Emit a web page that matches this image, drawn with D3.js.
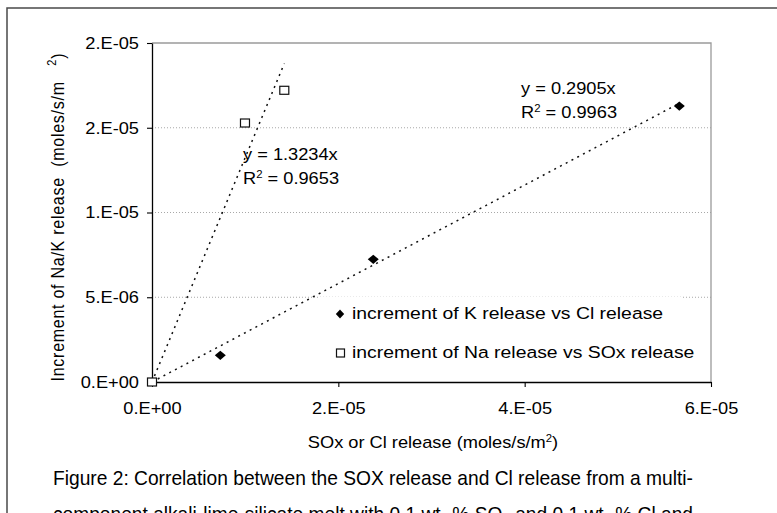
<!DOCTYPE html>
<html>
<head>
<meta charset="utf-8">
<script src="https://cdn.jsdelivr.net/npm/d3@7"></script>
<style>
  html, body { margin: 0; padding: 0; background: #fff; }
  svg { display: block; }
  text { font-family: "Liberation Sans", Arial, sans-serif; fill: #000; white-space: pre; }
</style>
</head>
<body>
<div id="chart"></div>
<script>
// K release vs Cl release (diamonds)
const kRelease = [7.33e-6, 2.375e-5, 5.66e-5];
const kIncrement = [1.575e-6, 7.24e-6, 1.628e-5];
// Na release vs SOx release (squares)
const soxRelease = [0, 9.98e-6, 1.42e-5];
const naIncrement = [0, 1.528e-5, 1.721e-5];
// linear trendlines through the origin
const trendSlopes = [0.2905, 1.3234];
const trendEquations = ["y = 0.2905x", "y = 1.3234x"];
const trendR2 = ["0.9963", "0.9653"];
const xTicks = [0, 2e-5, 4e-5, 6e-5];
const xTickLabels = ["0.E+00", "2.E-05", "4.E-05", "6.E-05"];
const yTicks = [0, 5e-6, 1e-5, 1.5e-5, 2e-5];
const yTickLabels = ["0.E+00", "5.E-06", "1.E-05", "2.E-05", "2.E-05"];
const legendLabels = ["increment of K release vs Cl release", "increment of Na release vs SOx release"];
const captionLines = [
    "Figure 2: Correlation between the SOX release and Cl release from a multi-",
    "component alkali-lime-silicate melt with 0.1 wt- % SO\u2082 and 0.1 wt- % Cl and"
];

const width = 777, height = 513;
const plot = { left: 152, top: 43, right: 711, bottom: 382 };
const sx = 1.14; // the source image is stretched sideways

const svg = d3.select("#chart").append("svg").attr("width", width).attr("height", height);

// outer figure frame
svg.append("rect").attr("x", 7).attr("y", 8).attr("width", 820).attr("height", 600)
    .attr("fill", "none").attr("stroke", "#4a4a4a").attr("stroke-width", 1.5);

const x = d3.scaleLinear().domain([0, 6e-5]).range([plot.left, plot.right]);
const y = d3.scaleLinear().domain([0, 2e-5]).range([plot.bottom, plot.top]);

// gridlines
svg.append("g").selectAll("line").data(yTicks.slice(1, -1)).join("line")
    .attr("x1", plot.left).attr("x2", plot.right)
    .attr("y1", d => y(d)).attr("y2", d => y(d))
    .attr("stroke", "#a8a8a8").attr("stroke-width", 1).attr("stroke-dasharray", "1,2");

// plot area border (top/right)
svg.append("path").attr("d", `M${plot.left},${plot.top}H${plot.right}V${plot.bottom}`)
    .attr("fill", "none").attr("stroke", "#9a9a9a").attr("stroke-width", 1.3);

// legend background
const legend = svg.append("g");
legend.append("rect").attr("x", 318).attr("y", 297).attr("width", 363).attr("height", 78).attr("fill", "#fff");

// axes
const xAxis = svg.append("g").attr("transform", `translate(0,${plot.bottom})`)
    .call(d3.axisBottom(x).tickValues(xTicks).tickFormat((d, i) => xTickLabels[i]).tickSize(5).tickSizeOuter(0));
const yAxis = svg.append("g").attr("transform", `translate(${plot.left},0)`)
    .call(d3.axisLeft(y).tickValues(yTicks).tickFormat((d, i) => yTickLabels[i]).tickSize(5).tickSizeOuter(0));
[xAxis, yAxis].forEach(a => {
    a.attr("font-size", 16).attr("font-family", null);
    a.select(".domain").attr("stroke", "#000").attr("stroke-width", 1.3);
    a.selectAll(".tick line").attr("stroke", "#000").attr("stroke-width", 1.1);
    a.selectAll("text").attr("fill", "#000").attr("transform", `scale(${sx},1)`);
});
xAxis.selectAll("text").attr("y", 20.6);
yAxis.selectAll("text").attr("x", -13 / sx).attr("dy", "0.34em");

// trendlines
const trends = [
    { slope: trendSlopes[0], xMax: d3.max(kRelease) },
    { slope: trendSlopes[1], xMax: d3.max(soxRelease) }
];
svg.append("g").selectAll("line").data(trends).join("line")
    .attr("x1", x(0)).attr("y1", y(0))
    .attr("x2", d => x(d.xMax)).attr("y2", d => y(d.slope * d.xMax))
    .attr("stroke", "#111").attr("stroke-width", 1.5).attr("stroke-dasharray", "2,4.5");

// markers
const diamond = (cx, cy, w, h) => `M${cx},${cy - h}L${cx + w},${cy}L${cx},${cy + h}L${cx - w},${cy}Z`;
const kData = kRelease.map((v, i) => ({ x: v, y: kIncrement[i] }));
const naData = soxRelease.map((v, i) => ({ x: v, y: naIncrement[i] }));

svg.append("g").selectAll("path").data(kData).join("path")
    .attr("d", d => diamond(x(d.x), y(d.y), 5.5, 4.6)).attr("fill", "#000");
svg.append("g").selectAll("rect").data(naData).join("rect")
    .attr("x", d => x(d.x) - 4.5).attr("y", d => y(d.y) - 4).attr("width", 9).attr("height", 8)
    .attr("fill", "#fff").attr("stroke", "#111").attr("stroke-width", 1.2);

// stretched text helper
function stretchText(px, py, size) {
    return svg.append("text").attr("transform", `translate(${px},${py}) scale(${sx},1)`).attr("font-size", size);
}

// trendline equations
const eqPos = [[521, 94], [243, 160]];
trendEquations.forEach((eq, i) => {
    const [px, py] = eqPos[i];
    stretchText(px, py, 16).text(eq);
    const r = stretchText(px, py + 24, 16);
    r.append("tspan").text("R");
    r.append("tspan").attr("font-size", 10).attr("dy", -6).text("2");
    r.append("tspan").attr("dy", 6).text(" = " + trendR2[i]);
});

// legend entries
legend.append("path").attr("d", diamond(340, 314, 4.2, 4.6)).attr("fill", "#000");
legend.append("rect").attr("x", 336.5).attr("y", 349).attr("width", 8).attr("height", 8)
    .attr("fill", "#fff").attr("stroke", "#111").attr("stroke-width", 1.2);
legendLabels.forEach((t, i) => {
    legend.append("text").attr("transform", `translate(352,${319 + i * 39}) scale(${sx},1)`)
        .attr("font-size", 17).text(t);
});

// axis titles
const xl = stretchText(433, 448, 16).attr("text-anchor", "middle");
xl.append("tspan").text("SOx or Cl release (moles/s/m");
xl.append("tspan").attr("font-size", 10).attr("dy", -6).text("2");
xl.append("tspan").attr("dy", 6).text(")");

const yl = svg.append("text").attr("transform", `translate(64,217.5) scale(${sx},1) rotate(-90)`)
    .attr("text-anchor", "middle").attr("font-size", 16)
    .attr("textLength", 328).attr("lengthAdjust", "spacing");
yl.append("tspan").text("Increment of Na/K release  (moles/s/m   ");
yl.append("tspan").attr("font-size", 11).attr("dy", -7).text("2");
yl.append("tspan").attr("dy", 7).text(")");

// caption
captionLines.forEach((t, i) => {
    svg.append("text").attr("x", 53).attr("y", 485 + i * 36)
        .attr("font-family", "'Liberation Sans Narrow', 'Roboto Condensed', Roboto, sans-serif")
        .attr("font-size", 21).attr("fill", "#333")
        .attr("textLength", 640).attr("lengthAdjust", "spacingAndGlyphs")
        .text(t);
});
</script>
</body>
</html>
